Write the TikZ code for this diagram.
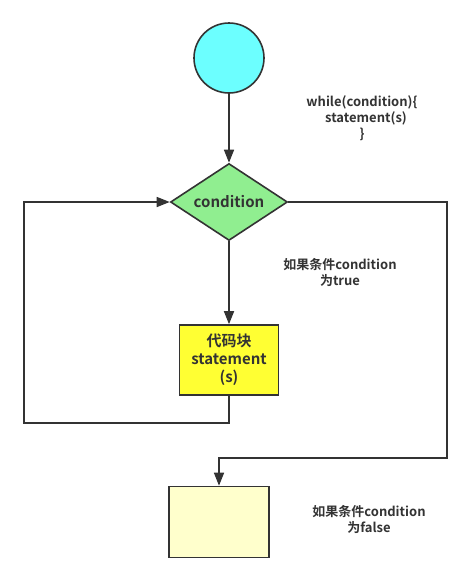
\documentclass[tikz,border=0pt]{standalone}
\usepackage{fontspec}
\setmainfont{Noto Sans CJK SC}[BoldFont={* Bold}]
\usetikzlibrary{arrows.meta,shapes.geometric}
\definecolor{ln}{HTML}{333333}
\definecolor{cyanfill}{HTML}{6CFFFF}
\definecolor{greenfill}{HTML}{90EE90}
\definecolor{yelfill}{HTML}{FFFF33}
\definecolor{paleyel}{HTML}{FFFFCC}
\tikzset{
  conn/.style={draw=ln, line width=1.6pt, -{Triangle[length=13pt,width=10pt]}},
  plain/.style={draw=ln, line width=1.6pt},
  shp/.style={draw=ln, line width=1.6pt, inner sep=0pt, font=\bfseries\fontsize{15}{18}\selectfont, text=ln, align=center},
  lbl/.style={font=\bfseries\fontsize{13}{16}\selectfont, text=ln, align=center, inner sep=0pt}
}
\begin{document}
\begin{tikzpicture}[x=1pt,y=-1pt]
\useasboundingbox (0,0) rectangle (474,582);
\node[shp, circle, fill=cyanfill, minimum size=70pt] (start) at (229,58) {};
\node[shp, diamond, fill=greenfill, minimum width=117pt, minimum height=77pt, aspect=1.52] (cond) at (229,202) {condition};
\node[shp, rectangle, fill=yelfill, minimum width=99pt, minimum height=70pt] (body) at (229,360) {代码块\\statement\\(s)};
\node[shp, rectangle, fill=paleyel, minimum width=100pt, minimum height=71pt] (end) at (219,522) {};
\node[lbl] (code) at (362,118) {while(condition)\{\\\hspace*{8pt}statement(s)\\\}};
\node[lbl] (tlbl) at (340,272) {如果条件condition\\为true};
\node[lbl] (flbl) at (369,519) {如果条件condition\\为false};
\coordinate (r1) at (447,202);
\coordinate (r2) at (447,458);
\coordinate (r3) at (219,458);
\coordinate (l1) at (229,423);
\coordinate (l2) at (24,423);
\coordinate (l3) at (24,202);
\draw[conn] (start) -- (cond.north);
\draw[conn] (cond.south) -- (body.north);
\draw[conn] (body.south) -- (l1) -- (l2) -- (l3) -- (cond.west);
\draw[conn] (cond.east) -- (r1) -- (r2) -- (r3) -- (end.north);
\end{tikzpicture}
\end{document}
